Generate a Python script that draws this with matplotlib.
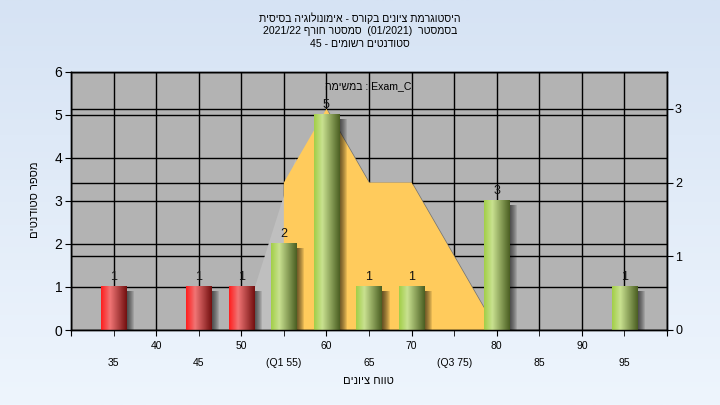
import matplotlib

matplotlib.use("Agg")
import matplotlib.patheffects as pe  # noqa: E402
import matplotlib.pyplot as plt  # noqa: E402
import numpy as np  # noqa: E402
from matplotlib.colors import LinearSegmentedColormap  # noqa: E402
from matplotlib.patches import Polygon, Rectangle  # noqa: E402
from matplotlib.transforms import blended_transform_factory  # noqa: E402

plt.rcParams["font.family"] = ["Liberation Sans", "DejaVu Sans"]

# grade bins (left axis: number of students)
grades = [35, 45, 50, 55, 60, 65, 70, 80, 95]
counts = [1, 1, 1, 2, 5, 1, 1, 3, 1]
pass_mark = 55  # bins below this are drawn red

# area series on the right axis
area_x = [55, 55, 60, 65, 70, 80]
area_y = [0, 2, 3, 2, 2, 0]
halo_x = [50, 56.4, 56.4]
halo_y = [0, 2.33, 0]

upper_ticks = [30, 40, 50, 60, 70, 80, 90, 100]
upper_labels = ["", "40", "50", "60", "70", "80", "90", ""]
lower_ticks = [35, 45, 55, 65, 75, 85, 95]
lower_labels = ["35", "45", "(Q1 55)", "65", "(Q3 75)", "85", "95"]
left_ticks = [0, 1, 2, 3, 4, 5, 6]
right_ticks = [0, 1, 2, 3]

title_lines = [
    "היסטוגרמת ציונים בקורס - אימונולוגיה בסיסית",
    "בסמסטר  (01/2021)  סמסטר חורף 2021/22",
    "סטודנטים רשומים - 45",
]
task_word = "במשימה"
task_name = "Exam_C"
x_title = "טווח ציונים"
y_title = "מספר סטודנטים"


def is_heb(word):
    return any("\u0590" <= c <= "\u05ff" for c in word)


def rtl(s):
    # crude visual reordering for a right-to-left line (no bidi lib available)
    return " ".join(p[::-1] if is_heb(p) else p for p in reversed(s.split(" ")))


W, H = 720, 405
fig = plt.figure(figsize=(W / 100, H / 100), dpi=100)

# light blue gradient background
bg = fig.add_axes([0, 0, 1, 1], zorder=-10)
bg_cmap = LinearSegmentedColormap.from_list("bg", ["#d6e3f4", "#eef5fd"])
bg.imshow(np.linspace(0, 1, 256)[:, None], cmap=bg_cmap, aspect="auto", extent=[0, 1, 0, 1])
bg.axis("off")

ax = fig.add_axes([71 / W, 1 - 330 / H, 596 / W, 258 / H])
ax.set_facecolor("#b3b3b3")
ax2 = ax.twinx()
ax2.set_ylim(0, 3.5)
ax2.patch.set_visible(False)

# grid
ax.set_axisbelow(True)
ax.set_xticks(upper_ticks)
ax.set_xticklabels(upper_labels)
ax.set_xticks(lower_ticks, minor=True)
ax.set_xticklabels(lower_labels, minor=True)
ax.set_yticks(left_ticks)
ax.grid(True, which="both", color="black", lw=1)
rgrid = blended_transform_factory(ax.transAxes, ax2.transData)
for v in right_ticks[1:]:
    ax.plot([0, 1], [v, v], transform=rgrid, color="black", lw=1, zorder=0.5)

# area polygons (right-axis scale)
ax.add_patch(
    Polygon(np.column_stack([halo_x, halo_y]), closed=True, transform=ax2.transData,
            facecolor="#bfbfbf", edgecolor="none", zorder=1)
)
ax.add_patch(
    Polygon(np.column_stack([area_x, area_y]), closed=True, transform=ax2.transData,
            facecolor="#ffcb5c", edgecolor="none", zorder=1.2,
            path_effects=[pe.SimplePatchShadow(offset=(1.5, -1.5), shadow_rgbFace="#6e6e6e", alpha=0.9),
                          pe.Normal()])
)

# gradient bars with soft shadow
red = LinearSegmentedColormap.from_list("r", [(0, "#ff1e1e"), (0.35, "#f07575"), (1, "#731010")])
green = LinearSegmentedColormap.from_list("g", [(0, "#a2cf48"), (0.32, "#c9e190"), (1, "#4b5f22")])
bw = 2.95
px_x = 70 / 596
px_y = 6 / 258
for g, c in zip(grades, counts):
    for k in range(1, 9):
        ax.add_patch(Rectangle((g - bw / 2 + k * px_x, -1), bw, c + 1 - 4 * px_y,
                               facecolor="black", alpha=0.1, edgecolor="none", zorder=2))
    cmap = red if g < pass_mark else green
    img = cmap(np.linspace(0, 1, 64))[None, :, :]
    ax.imshow(img, extent=[g - bw / 2, g + bw / 2, 0, c], aspect="auto", interpolation="bilinear", zorder=3)
    ax.annotate(str(c), (g, c), xytext=(0, 5), textcoords="offset points",
                ha="center", va="baseline", fontsize=9, color="#111111", zorder=4)

ax.set_xlim(30, 100)
ax.set_ylim(0, 6)

ax.tick_params(axis="y", labelsize=10, length=4.3, pad=2, color="black")
ax2.set_yticks(right_ticks)
ax2.tick_params(axis="y", labelsize=9, length=4.3, pad=1.5, color="black")
ax.tick_params(axis="x", which="major", labelsize=7.5, length=4.3, pad=3.5, color="black")
ax.tick_params(axis="x", which="minor", labelsize=7.5, length=4.3, pad=16, color="black")
for s in list(ax.spines.values()) + list(ax2.spines.values()):
    s.set_color("black")
    s.set_linewidth(1)

# texts
for i, line in enumerate(title_lines):
    fig.text(0.5, 1 - (18 + 13 * i) / H, rtl(line), ha="center", va="center", fontsize=7.6)
fig.text(368 / W, 1 - 86 / H, task_word[::-1] + " : " + task_name, ha="center", va="center", fontsize=7.6)
fig.text(368 / W, 1 - 381 / H, rtl(x_title), ha="center", va="center", fontsize=8)
fig.text(35 / W, 1 - 200 / H, rtl(y_title), ha="center", va="center", rotation=90, fontsize=8)

fig.savefig("out.png", dpi=100)
